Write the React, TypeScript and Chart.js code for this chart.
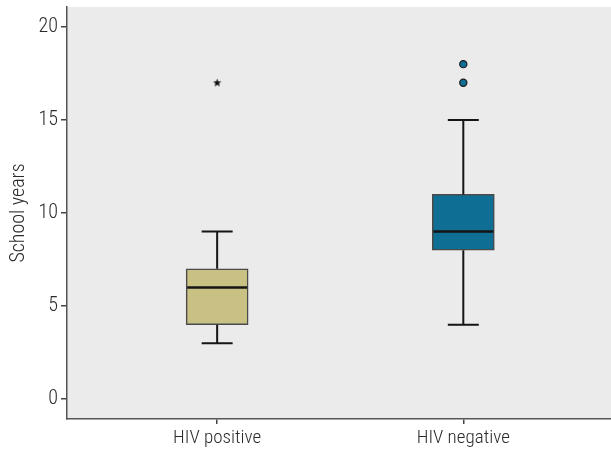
import React, { useEffect, useRef } from "react";
import { Chart, registerables } from "chart.js";

Chart.register(...registerables);

const categories = ["HIV positive", "HIV negative"];
const categoryPositions = [1, 2];
const whiskerLow = [3, 4];
const q1 = [4, 8];
const median = [6, 9];
const q3 = [7, 11];
const whiskerHigh = [9, 15];
const outliersPositive = [17];
const outliersNegative = [17, 18];
const yTicks = [0, 5, 10, 15, 20];
const boxColors = ["#c8c183", "#0e6e94"];

const FONT = "'Liberation Sans Narrow', 'Roboto Condensed', 'DejaVu Sans Condensed', sans-serif";

function makeStar(): HTMLCanvasElement {
  const c = document.createElement("canvas");
  c.width = 9;
  c.height = 9;
  const ctx = c.getContext("2d")!;
  ctx.fillStyle = "#111";
  ctx.beginPath();
  const cx = 4.5, cy = 4.7, R = 4.3, r = 1.9;
  for (let i = 0; i < 10; i++) {
    const rad = i % 2 === 0 ? R : r;
    const a = -Math.PI / 2 + (i * Math.PI) / 5;
    const px = cx + rad * Math.cos(a);
    const py = cy + rad * Math.sin(a);
    if (i === 0) ctx.moveTo(px, py);
    else ctx.lineTo(px, py);
  }
  ctx.closePath();
  ctx.fill();
  return c;
}

const bgPlugin = {
  id: "bgPlugin",
  beforeDraw(chart: any) {
    const { ctx, chartArea } = chart;
    ctx.save();
    ctx.fillStyle = "#ebebeb";
    ctx.fillRect(chartArea.left, chartArea.top, chartArea.right - chartArea.left, chartArea.bottom - chartArea.top);
    ctx.restore();
  },
};

const boxPlugin = {
  id: "boxPlugin",
  afterDatasetsDraw(chart: any) {
    const { ctx } = chart;
    const xs = chart.scales.x;
    const ys = chart.scales.y;
    const meta = chart.getDatasetMeta(0);
    ctx.save();
    ctx.strokeStyle = "#151515";
    ctx.lineCap = "butt";
    categoryPositions.forEach((pos, i) => {
      const x = xs.getPixelForValue(pos);
      const bw = meta.data[i] ? meta.data[i].width : 62;
      const half = bw / 2;
      const cap = bw / 4;
      ctx.lineWidth = 2;
      ctx.beginPath();
      ctx.moveTo(x, ys.getPixelForValue(q1[i]));
      ctx.lineTo(x, ys.getPixelForValue(whiskerLow[i]));
      ctx.moveTo(x - cap, ys.getPixelForValue(whiskerLow[i]));
      ctx.lineTo(x + cap, ys.getPixelForValue(whiskerLow[i]));
      ctx.moveTo(x, ys.getPixelForValue(q3[i]));
      ctx.lineTo(x, ys.getPixelForValue(whiskerHigh[i]));
      ctx.moveTo(x - cap, ys.getPixelForValue(whiskerHigh[i]));
      ctx.lineTo(x + cap, ys.getPixelForValue(whiskerHigh[i]));
      ctx.stroke();
      ctx.lineWidth = 2.5;
      ctx.beginPath();
      ctx.moveTo(x - half + 1, ys.getPixelForValue(median[i]));
      ctx.lineTo(x + half - 1, ys.getPixelForValue(median[i]));
      ctx.stroke();
    });
    ctx.restore();
  },
};

export default function App() {
  const ref = useRef<HTMLCanvasElement | null>(null);
  useEffect(() => {
    document.body.style.margin = "0";
    const star = makeStar();
    const chart = new Chart(ref.current!, {
      type: "bar",
      data: {
        datasets: [
          {
            type: "bar",
            data: categoryPositions.map((p, i) => ({ x: p, y: [q1[i], q3[i]] })) as any,
            backgroundColor: boxColors,
            borderColor: "#4a4a4a",
            borderWidth: 1.5,
            borderSkipped: false,
            barThickness: 62,
            order: 2,
          } as any,
          {
            type: "scatter",
            data: outliersPositive.map((v) => ({ x: categoryPositions[0], y: v })),
            pointStyle: star as any,
            pointRadius: 4,
            order: 1,
          } as any,
          {
            type: "scatter",
            data: outliersNegative.map((v) => ({ x: categoryPositions[1], y: v })),
            pointStyle: "circle",
            pointRadius: 3.6,
            backgroundColor: boxColors[1],
            borderColor: "#1a1a1a",
            borderWidth: 1.2,
            order: 1,
          } as any,
        ],
      },
      options: {
        responsive: false,
        animation: false,
        layout: { autoPadding: false, padding: { top: 7, right: 0, left: 0, bottom: 0 } },
        plugins: { legend: { display: false }, tooltip: { enabled: false } },
        scales: {
          x: {
            type: "linear",
            min: 0.39,
            max: 2.6,
            offset: false,
            afterBuildTicks(scale: any) {
              scale.ticks = categoryPositions.map((v) => ({ value: v }));
            },
            afterFit(scale: any) {
              scale.height = 32;
              scale.paddingLeft = 0;
              scale.paddingRight = 0;
            },
            grid: { display: true, offset: false, drawOnChartArea: false, drawTicks: true, tickLength: 5, color: "#444", lineWidth: 1.5 },
            border: { display: true, color: "#555", width: 1.5 },
            ticks: {
              autoSkip: false,
              maxRotation: 0,
              padding: 3,
              color: "#2a2a2a",
              font: { family: FONT, size: 19, weight: "300" },
              callback: (v: any) => {
                const idx = categoryPositions.indexOf(Number(v));
                return idx >= 0 ? categories[idx] : "";
              },
            },
          },
          y: {
            type: "linear",
            min: -1.07,
            max: 21.07,
            afterBuildTicks(scale: any) {
              scale.ticks = yTicks.map((v) => ({ value: v }));
            },
            afterFit(scale: any) {
              scale.width = 67;
              scale.paddingTop = 0;
              scale.paddingBottom = 0;
            },
            grid: { display: true, drawOnChartArea: false, drawTicks: true, tickLength: 6, color: "#444", lineWidth: 1.5 },
            border: { display: true, color: "#555", width: 1.5 },
            ticks: {
              padding: 3,
              color: "#2a2a2a",
              font: { family: FONT, size: 20, weight: "300" },
            },
            title: {
              display: true,
              text: "School years",
              color: "#2a2a2a",
              font: { family: FONT, size: 20, weight: "300" },
              padding: { top: 7, bottom: 0 },
            },
          },
        },
      },
      plugins: [bgPlugin, boxPlugin],
    });
    return () => chart.destroy();
  }, []);
  return (
    <div style={{ width: 611, height: 451 }}>
      <canvas ref={ref} width={611} height={451} style={{ display: "block" }} />
    </div>
  );
}
